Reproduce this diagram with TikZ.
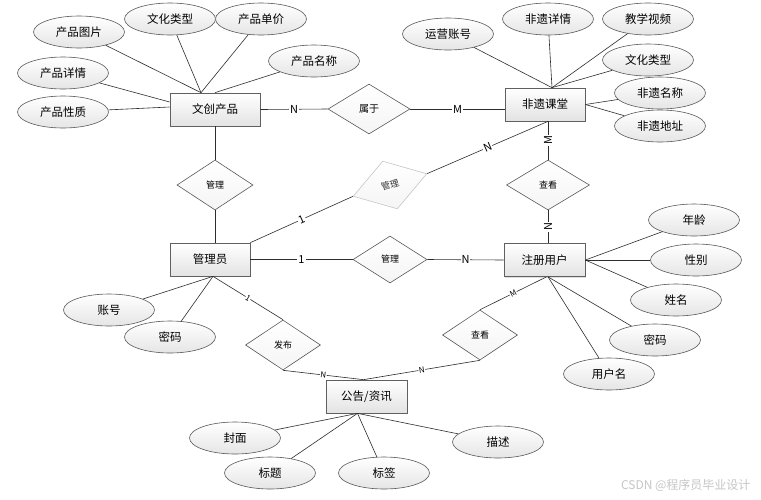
\documentclass[tikz,border=0pt]{standalone}
\usepackage{fontspec}
\setmainfont{Noto Sans CJK SC}
\usetikzlibrary{shapes,shadows,calc}

\tikzset{
  entity/.style={rectangle, draw=gray!75!black, line width=0.7pt, top color=white, bottom color=gray!22,
    minimum width=80pt, minimum height=33pt, inner sep=0pt, font=\fontsize{11.5}{12}\selectfont,
    drop shadow={shadow xshift=1pt, shadow yshift=-1pt, opacity=0.25}},
  attr/.style={ellipse, draw=gray!70!black, line width=0.6pt, top color=white, bottom color=gray!20,
    minimum width=91pt, minimum height=32pt, inner sep=0pt, font=\fontsize{11.5}{12}\selectfont},
  rel/.style={diamond, draw=gray!70!black, line width=0.6pt, top color=white, bottom color=gray!8,
    minimum width=76pt, minimum height=50pt, inner sep=0pt, font=\fontsize{9}{9}\selectfont},
  card/.style={fill=white, inner sep=1pt, font=\fontsize{11}{11}\selectfont},
  smallcard/.style={fill=white, inner sep=0.5pt, font=\fontsize{8}{8}\selectfont},
  link/.style={draw=gray!35!black, line width=0.6pt}
}

\begin{document}
\begin{tikzpicture}[x=1pt,y=-1pt]
  \useasboundingbox[fill=white] (0,0) rectangle (761,499);

  %Entities
  \node[entity, minimum width=90pt] (wc) at (215,109.5) {文创产品};
  \node[entity] (fy)  at (545,104.5) {非遗课堂};
  \node[entity] (gly) at (210,259.5) {管理员};
  \node[entity, minimum width=81pt] (yh)  at (544.5,260) {注册用户};
  \node[entity, minimum width=81pt] (gg)  at (366.5,396.5) {公告/资讯};

  %Relationships
  \node[rel, minimum width=82pt, font=\fontsize{10}{10}\selectfont] (sy) at (369,109) {属于};
  \node[rel] (gla) at (215,185) {管理};                 %manages products
  \node[rel, draw=gray!45, minimum width=77pt, rotate=17, text=gray!40!black] (glb) at (390,185) {管理}; %manages courses
  \node[rel, minimum width=74pt, minimum height=47pt] (glc) at (390,259.5) {管理}; %manages users
  \node[rel, minimum width=83pt] (cka) at (548,185) {查看};
  \node[rel, minimum width=75pt] (fb)  at (283,345) {发布};
  \node[rel, minimum width=75pt] (ckb) at (480,335) {查看};

  %Attributes of 文创产品
  \node[attr] (wc1) at (79,32)   {产品图片};
  \node[attr] (wc2) at (170,19)  {文化类型};
  \node[attr] (wc3) at (261,19)  {产品单价};
  \node[attr] (wc4) at (314,61)  {产品名称};
  \node[attr] (wc5) at (63,73)   {产品详情};
  \node[attr] (wc6) at (63,112)  {产品性质};

  %Attributes of 非遗课堂
  \node[attr] (fy1) at (448,34)  {运营账号};
  \node[attr] (fy2) at (548,19)  {非遗详情};
  \node[attr] (fy3) at (648,19)  {教学视频};
  \node[attr] (fy4) at (648,60)  {文化类型};
  \node[attr] (fy5) at (660,93)  {非遗名称};
  \node[attr] (fy6) at (660,126) {非遗地址};

  %Attributes of 注册用户
  \node[attr] (yh1) at (694,220) {年龄};
  \node[attr] (yh2) at (696,260) {性别};
  \node[attr] (yh3) at (676,300) {姓名};
  \node[attr] (yh4) at (655,340) {密码};
  \node[attr] (yh5) at (609,374) {用户名};

  %Attributes of 管理员
  \node[attr] (gl1) at (109,310) {账号};
  \node[attr] (gl2) at (170,337) {密码};

  %Attributes of 公告/资讯
  \node[attr] (gg1) at (235,438) {封面};
  \node[attr] (gg2) at (270,473) {标题};
  \node[attr] (gg3) at (384,473) {标签};
  \node[attr] (gg4) at (498,442) {描述};

  %Attribute links
  \coordinate (wct) at ([xshift=-14pt]wc.north);
  \foreach \a in {wc1,wc2,wc3} \draw[link] (\a) -- (wct);
  \draw[link] (wc4) -- (wc.north);
  \draw[link] (wc5) -- ([yshift=7.5pt]wc.west);
  \draw[link] (wc6) -- ([yshift=2.5pt]wc.west);

  \coordinate (fyt) at ([xshift=7pt]fy.north);
  \foreach \a in {fy1,fy2,fy3,fy4} \draw[link] (\a) -- (fyt);
  \foreach \a in {fy5,fy6} \draw[link] (\a) -- (fy.east);

  \foreach \a in {yh1,yh2,yh3} \draw[link] (\a) -- (yh.east);
  \coordinate (yhb) at ([xshift=3.5pt]yh.south);
  \foreach \a in {yh4,yh5} \draw[link] (\a) -- (yhb);

  \coordinate (glyb) at ([xshift=3pt]gly.south);
  \foreach \a in {gl1,gl2} \draw[link] (\a) -- (glyb);

  \coordinate (ggb) at ([xshift=-9pt]gg.south);
  \foreach \a in {gg1,gg2,gg3,gg4} \draw[link] (\a) -- (ggb);

  %Relationship links
  \draw[link] (wc.east) -- node[card]{N} (sy.west);
  \draw[link] (sy.east) -- node[card]{M} (sy.east -| fy.west);
  \draw[link] (wc.south) -- (gla.north);
  \draw[link] (gla.south) -- (gla.south |- gly.north);
  \draw[link] (gly.north east) -- node[card, sloped]{1} (glb.west);
  \draw[link] (glb.east) -- node[card, sloped]{N} (cka.north |- fy.south);
  \draw[link] (cka.north |- fy.south) -- node[card, rotate=90]{M} (cka.north);
  \draw[link] (cka.south) -- node[card, rotate=90]{N} (cka.south |- yh.north);
  \draw[link] (gly.east) -- node[card]{1} (glc.west);
  \draw[link] (glc.east) -- node[card]{N} (yh.west);
  \draw[link] (glyb) -- node[smallcard, sloped]{1} (fb.north);
  \draw[link] (fb.south) -- node[smallcard, sloped]{N} ([xshift=-3pt]gg.north);
  \draw[link] ([xshift=2pt]yh.south) -- node[smallcard, sloped]{M} (ckb.north);
  \draw[link] (ckb.south) -- node[smallcard, sloped]{N} ([xshift=-3pt]gg.north);

  %Watermark
  \node[text=gray!45, font=\fontsize{12}{12}\selectfont, anchor=east] (wm) at (754,485) {CSDN @程序员毕业设计};
\end{tikzpicture}
\end{document}
